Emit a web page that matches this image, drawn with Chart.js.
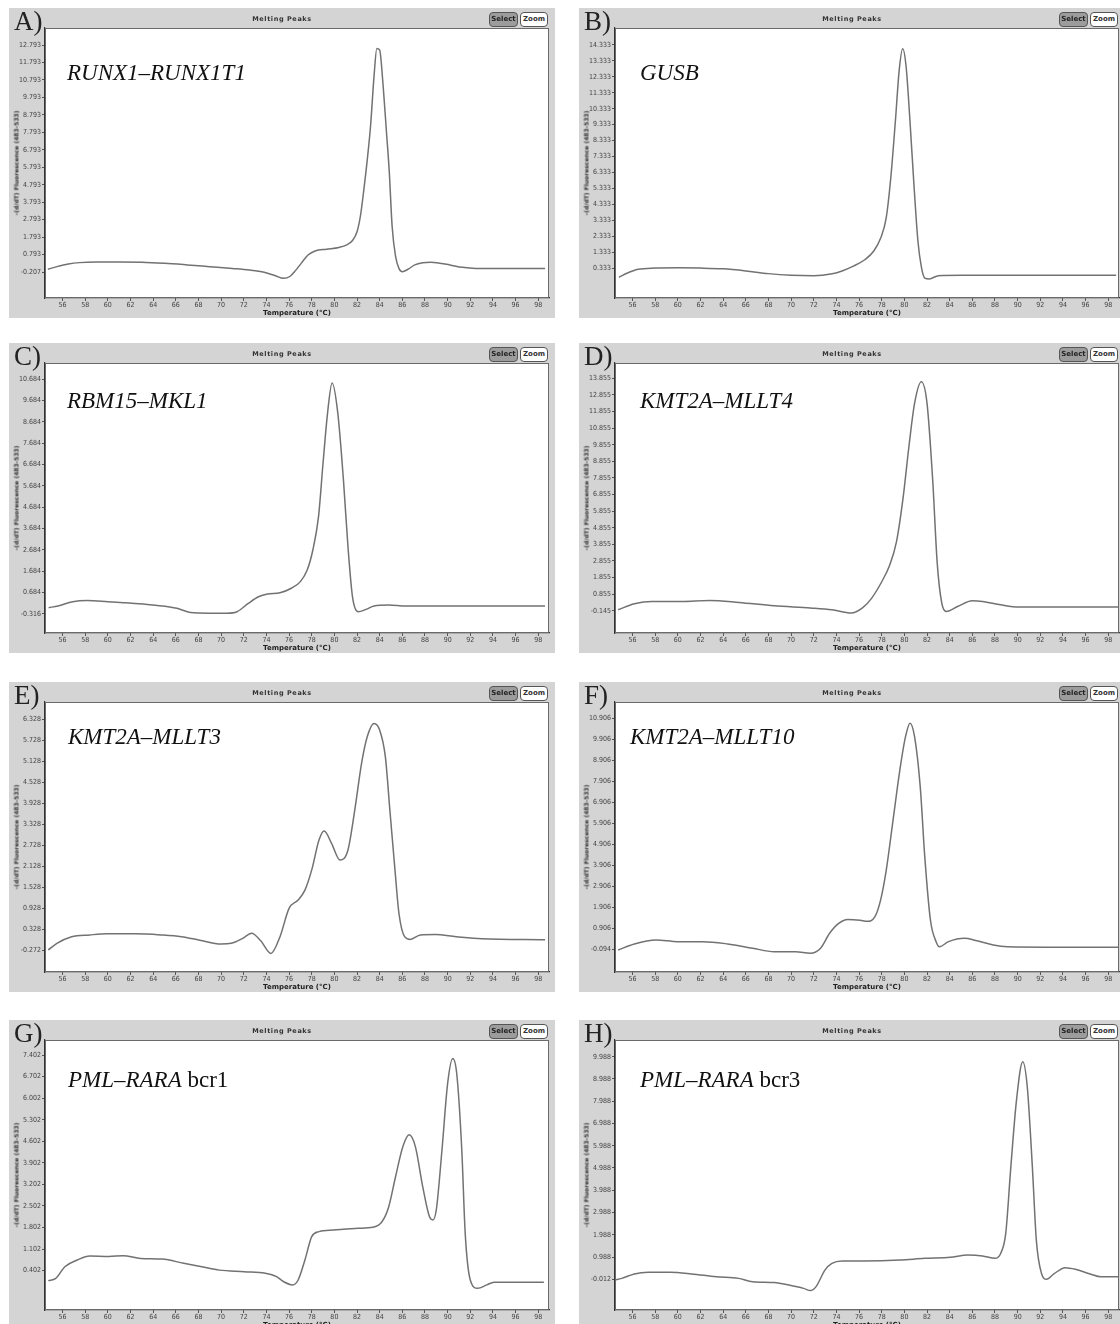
<!DOCTYPE html>
<html><head><meta charset="utf-8">
<script src="https://cdn.jsdelivr.net/npm/chart.js@4.4.1/dist/chart.umd.min.js"></script>
<style>
html,body{margin:0;padding:0;background:#fff;width:1120px;height:1324px;overflow:hidden;}
#root{position:relative;width:1120px;height:1324px;overflow:hidden;}
.frame{position:absolute;background:#d4d4d4;overflow:hidden;}
.frame canvas{position:absolute;left:0;top:0;}
.letter{position:absolute;font-family:"Liberation Serif","Times New Roman",serif;font-size:27px;line-height:26px;color:#222;white-space:nowrap;}
.ttl{position:absolute;font-family:"DejaVu Sans",Arial,sans-serif;font-weight:bold;font-size:6.5px;letter-spacing:0.6px;color:#333;transform:translate(-50%,-50%);white-space:nowrap;}
.btn{position:absolute;box-sizing:border-box;border:1px solid #555;border-radius:4px;font-family:"DejaVu Sans",Arial,sans-serif;font-weight:bold;font-size:7px;text-align:center;line-height:13px;}
.sel{background:#9c9c9c;color:#222;}
.zm{background:#fff;color:#333;}
.gene{position:absolute;font-family:"Liberation Serif","Times New Roman",serif;font-size:23px;line-height:23px;color:#111;white-space:nowrap;}
.xt{position:absolute;font-family:"DejaVu Sans",Arial,sans-serif;font-weight:bold;font-size:7px;color:#222;transform:translate(-50%,-50%);white-space:nowrap;}
.yt{position:absolute;font-family:"DejaVu Sans",Arial,sans-serif;font-weight:bold;font-size:6px;color:#333;transform:translate(-50%,-50%) rotate(-90deg);white-space:nowrap;}
</style>
</head><body><div id="root"></div>
<script>
// ---------------- DATA ----------------
const xTicks = [56,58,60,62,64,66,68,70,72,74,76,78,80,82,84,86,88,90,92,94,96,98];

const tempA = [54.7,55.5,56.5,57.5,59,61,63,65,67,69,71,72.5,73.8,74.8,75.5,76.1,76.6,77.2,77.7,78.3,79.3,80.4,81.1,81.6,82,82.3,82.6,82.9,83.2,83.5,83.75,84.0,84.3,84.6,84.85,85.1,85.4,85.7,86.0,86.5,87.1,87.8,88.5,89.3,90.2,91.3,92.5,98.6];
const valsA = [-0.05,0.1,0.25,0.33,0.36,0.36,0.35,0.29,0.2,0.1,0.0,-0.09,-0.22,-0.42,-0.57,-0.45,-0.1,0.4,0.78,1.0,1.1,1.2,1.35,1.6,2.1,3.0,4.5,6.2,8.2,11.0,12.6,12.5,10.5,7.8,5.5,2.4,0.7,0.0,-0.19,-0.05,0.2,0.32,0.35,0.3,0.2,0.06,0.0,0.0];
const yTicksA = [12.793,11.793,10.793,9.793,8.793,7.793,6.793,5.793,4.793,3.793,2.793,1.793,0.793,-0.207];

const tempB = [54.8,55.5,56.5,58,60,62,64,66,68,70,72,73.5,74.5,75.5,76.5,77.3,77.9,78.4,78.8,79.2,79.55,79.85,80.15,80.5,80.85,81.2,81.5,81.8,82.2,83,85,98.7];
const valsB = [-0.25,0.0,0.25,0.33,0.35,0.33,0.28,0.15,-0.02,-0.12,-0.15,-0.05,0.15,0.45,0.85,1.4,2.2,3.5,6.0,9.5,12.8,14.1,13.0,9.5,5.5,2.0,0.4,-0.3,-0.35,-0.15,-0.12,-0.12];
const yTicksB = [14.333,13.333,12.333,11.333,10.333,9.333,8.333,7.333,6.333,5.333,4.333,3.333,2.333,1.333,0.333];

const tempC = [54.77,55.6,56.9,58.2,60.0,61.6,64.2,66.1,67.3,68.9,70.5,71.4,72.4,73.3,74.1,75.2,76.2,77.0,77.6,78.1,78.6,79.0,79.4,79.8,80.3,80.8,81.2,81.6,82.1,82.8,83.5,84.8,86.3,98.6];
const valsC = [-0.02,0.06,0.26,0.31,0.26,0.21,0.09,-0.05,-0.25,-0.28,-0.28,-0.21,0.18,0.49,0.62,0.68,0.89,1.2,1.74,2.68,4.24,6.75,9.1,10.5,9.1,5.96,2.84,0.49,-0.21,-0.1,0.06,0.11,0.06,0.06];
const yTicksC = [10.684,9.684,8.684,7.684,6.684,5.684,4.684,3.684,2.684,1.684,0.684,-0.316];

const tempD = [54.73,56.16,57.7,60.3,62.8,65.4,68.5,71.7,73.6,75.3,76.3,77.1,78.0,78.7,79.3,79.9,80.4,80.9,81.5,82.0,82.5,82.9,83.3,83.7,84.7,86.0,86.9,88.5,90.1,98.9];
const valsD = [-0.09,0.27,0.41,0.41,0.47,0.35,0.15,0.02,-0.09,-0.29,0.02,0.6,1.6,2.6,4.0,6.73,9.73,12.34,13.64,12.34,7.73,2.72,0.32,-0.19,0.11,0.45,0.41,0.21,0.08,0.08];
const yTicksD = [13.855,12.855,11.855,10.855,9.855,8.855,7.855,6.855,5.855,4.855,3.855,2.855,1.855,0.855,-0.145];

const tempE = [54.74,55.5,56.8,58.4,59.9,62.4,64.65,66.5,68.1,70.0,70.9,71.9,72.7,73.5,74.4,75.2,76.0,76.8,77.4,78.0,78.65,79.1,79.75,80.5,81.2,81.8,82.4,82.9,83.5,84.0,84.5,84.9,85.35,85.7,86.2,86.7,87.6,88.9,90.75,93.0,98.6];
const valsE = [-0.27,-0.08,0.11,0.16,0.19,0.19,0.16,0.11,0.01,-0.1,-0.08,0.06,0.21,-0.01,-0.37,0.11,0.92,1.16,1.44,2.02,2.88,3.13,2.78,2.3,2.59,3.73,5.07,5.83,6.21,6.02,5.26,3.73,2.02,0.78,0.11,0.03,0.16,0.17,0.11,0.05,0.02];
const yTicksE = [6.328,5.728,5.128,4.528,3.928,3.328,2.728,2.128,1.528,0.928,0.328,-0.272];

const tempF = [54.73,56.16,58.06,60.0,62.2,64.4,66.6,68.5,70.4,71.7,72.6,73.4,74.2,75.0,76.1,76.7,77.4,77.9,78.4,79.0,79.6,80.1,80.5,80.9,81.4,81.8,82.3,82.8,83.1,83.9,85.3,86.3,87.85,89.1,98.9];
const valsF = [-0.13,0.16,0.35,0.27,0.27,0.16,-0.04,-0.21,-0.21,-0.28,-0.04,0.67,1.14,1.33,1.29,1.24,1.46,2.25,3.68,6.06,8.44,10.03,10.67,10.03,7.65,4.32,1.3,0.27,0.03,0.27,0.43,0.33,0.11,0.03,0.0];
const yTicksF = [10.906,9.906,8.906,7.906,6.906,5.906,4.906,3.906,2.906,1.906,0.906,-0.094];

const tempG = [54.74,55.4,56.2,57.3,58.4,60.1,61.35,62.9,64.8,66.7,68.3,69.85,72.05,73.9,74.9,75.5,76.3,76.8,77.4,78.0,78.65,79.9,82.1,83.4,84.2,84.8,85.4,86.05,86.6,87.15,87.8,88.4,88.7,89.0,89.5,90.0,90.45,90.8,91.25,91.55,92.0,92.65,93.45,94.1,98.5];
const valsG = [0.08,0.15,0.53,0.75,0.88,0.86,0.89,0.8,0.78,0.64,0.53,0.42,0.37,0.32,0.21,0.05,-0.06,0.1,0.75,1.51,1.67,1.72,1.78,1.81,1.99,2.48,3.45,4.43,4.81,4.43,3.13,2.15,2.05,2.38,4.32,6.48,7.29,6.81,4.32,1.62,0.1,-0.17,-0.06,0.03,0.03];
const yTicksG = [7.402,6.702,6.002,5.302,4.602,3.902,3.202,2.502,1.802,1.102,0.402];

const tempH = [54.42,55.05,56.16,57.4,59.3,61.2,63.4,65.35,66.6,68.5,69.8,71.1,71.7,72.2,73.0,73.6,74.5,76.4,79.6,81.8,84.05,85.6,86.9,88.0,88.5,88.95,89.4,89.9,90.45,90.85,91.3,91.65,92.1,92.55,93.2,94.2,95.1,96.4,97.35,98.9];
const valsH = [-0.04,0.03,0.23,0.3,0.3,0.23,0.1,0.03,-0.12,-0.16,-0.27,-0.42,-0.52,-0.34,0.41,0.7,0.81,0.81,0.85,0.93,0.98,1.08,1.04,0.93,1.15,2.05,5.04,8.04,9.76,8.64,5.04,1.75,0.26,-0.01,0.23,0.51,0.44,0.23,0.1,0.1];
const yTicksH = [9.988,8.988,7.988,6.988,5.988,4.988,3.988,2.988,1.988,0.988,-0.012];

const panelLetters = ['A)','B)','C)','D)','E)','F)','G)','H)'];
const geneNames = ['RUNX1–RUNX1T1','GUSB','RBM15–MKL1','KMT2A–MLLT4','KMT2A–MLLT3','KMT2A–MLLT10','PML–RARA','PML–RARA'];
const geneSuffix = ['','','','','','',' bcr1',' bcr3'];
const panelTitle = 'Melting Peaks';
const xAxisTitle = 'Temperature (°C)';
const yAxisTitle = '-(d/dT) Fluorescence (483-533)';

// ---------------- LAYOUT ----------------
const FW = 546, FH = 310, PL = 36, PR = 540, PT = 20, PB = 290;
const XMIN = 54.45, XMAX = 98.95;
const panels = [
  {t:tempA, v:valsA, yt:yTicksA, ymin:-1.696, ymax:13.767, left:9,   top:8,    gx:67,  gy:72.5},
  {t:tempB, v:valsB, yt:yTicksB, ymin:-1.55,  ymax:15.40,  left:579, top:8,    gx:640, gy:72.5},
  {t:tempC, v:valsC, yt:yTicksC, ymin:-1.206, ymax:11.433, left:9,   top:343,  gx:67,  gy:401},
  {t:tempD, v:valsD, yt:yTicksD, ymin:-1.488, ymax:14.777, left:579, top:343,  gx:640, gy:401},
  {t:tempE, v:valsE, yt:yTicksE, ymin:-0.901, ymax:6.823,  left:9,   top:682,  gx:68,  gy:737},
  {t:tempF, v:valsF, yt:yTicksF, ymin:-1.175, ymax:11.682, left:579, top:682,  gx:630, gy:737},
  {t:tempG, v:valsG, yt:yTicksG, ymin:-0.874, ymax:7.889,  left:9,   top:1020, gx:68,  gy:1080},
  {t:tempH, v:valsH, yt:yTicksH, ymin:-1.391, ymax:10.738, left:579, top:1020, gx:640, gy:1080}
];

const TICKFONT = {family:'"Liberation Sans Narrow","DejaVu Sans Condensed",Arial,sans-serif', size:7};

const plotBox = {
  id:'plotBox',
  beforeDraw(c){const a=c.chartArea,ctx=c.ctx;ctx.save();ctx.fillStyle='#ffffff';ctx.fillRect(a.left,a.top,a.right-a.left,a.bottom-a.top);ctx.restore();},
  afterDraw(c){const a=c.chartArea,ctx=c.ctx;ctx.save();ctx.strokeStyle='#6a6a6a';ctx.lineWidth=1;
    ctx.strokeRect(a.left+0.5,a.top+0.5,a.right-a.left-1,a.bottom-a.top-1);ctx.restore();}
};

const root = document.getElementById('root');
function el(cls, parent, txt){const d=document.createElement('div');d.className=cls;if(txt!==undefined)d.textContent=txt;parent.appendChild(d);return d;}

panels.forEach((p,i)=>{
  const f = el('frame', root);
  Object.assign(f.style,{left:p.left+'px',top:p.top+'px',width:FW+'px',height:FH+'px'});
  const cv = document.createElement('canvas');
  cv.width=FW; cv.height=FH; cv.style.width=FW+'px'; cv.style.height=FH+'px';
  f.appendChild(cv);

  const pts = p.t.map((t,k)=>({x:t,y:p.v[k]}));
  new Chart(cv,{
    type:'line',
    data:{datasets:[{data:pts,borderColor:'#727272',borderWidth:1.5,pointRadius:0,fill:false,cubicInterpolationMode:'monotone'}]},
    options:{
      responsive:false, animation:false, devicePixelRatio:1,
      layout:{padding:{left:0,top:PT,right:FW-PR,bottom:0}},
      plugins:{legend:{display:false},tooltip:{enabled:false},title:{display:false}},
      scales:{
        x:{type:'linear',min:XMIN,max:XMAX,
          afterBuildTicks:s=>{s.ticks=xTicks.map(v=>({value:v}));},
          afterFit:s=>{s.height=FH-PB;},
          ticks:{font:TICKFONT,color:'#444',padding:0,maxRotation:0,autoSkip:false,callback:v=>String(v)},
          grid:{drawOnChartArea:false,drawTicks:true,tickLength:3,color:'#555'},
          border:{display:true,color:'#333',width:1.2}},
        y:{type:'linear',min:p.ymin,max:p.ymax,
          afterBuildTicks:s=>{s.ticks=p.yt.map(v=>({value:v}));},
          afterFit:s=>{s.width=PL;},
          ticks:{font:TICKFONT,color:'#444',padding:1,autoSkip:false,callback:v=>v.toFixed(3)},
          grid:{drawOnChartArea:false,drawTicks:true,tickLength:3,color:'#555'},
          border:{display:true,color:'#333',width:1.2}}
      }
    },
    plugins:[plotBox]
  });

  const L = el('letter', f, panelLetters[i]); L.style.left='5px'; L.style.top='0px';
  const T = el('ttl', f, panelTitle); T.style.left=(FW/2)+'px'; T.style.top='11px';
  const s = el('btn sel', f, 'Select'); Object.assign(s.style,{left:'480px',top:'4px',width:'29px',height:'15px'});
  const z = el('btn zm', f, 'Zoom'); Object.assign(z.style,{left:'511px',top:'4px',width:'28px',height:'15px'});
  const g = el('gene', f);
  const it = document.createElement('i'); it.textContent = geneNames[i]; g.appendChild(it);
  if (geneSuffix[i]) g.appendChild(document.createTextNode(geneSuffix[i]));
  g.style.left=(p.gx-p.left)+'px'; g.style.top=(p.gy-12-p.top)+'px';
  const xt = el('xt', f, xAxisTitle); xt.style.left=((PL+PR)/2)+'px'; xt.style.top='305px';
  const yt = el('yt', f, yAxisTitle); yt.style.left='7px'; yt.style.top=((PT+PB)/2)+'px';
});
</script>
</body></html>
